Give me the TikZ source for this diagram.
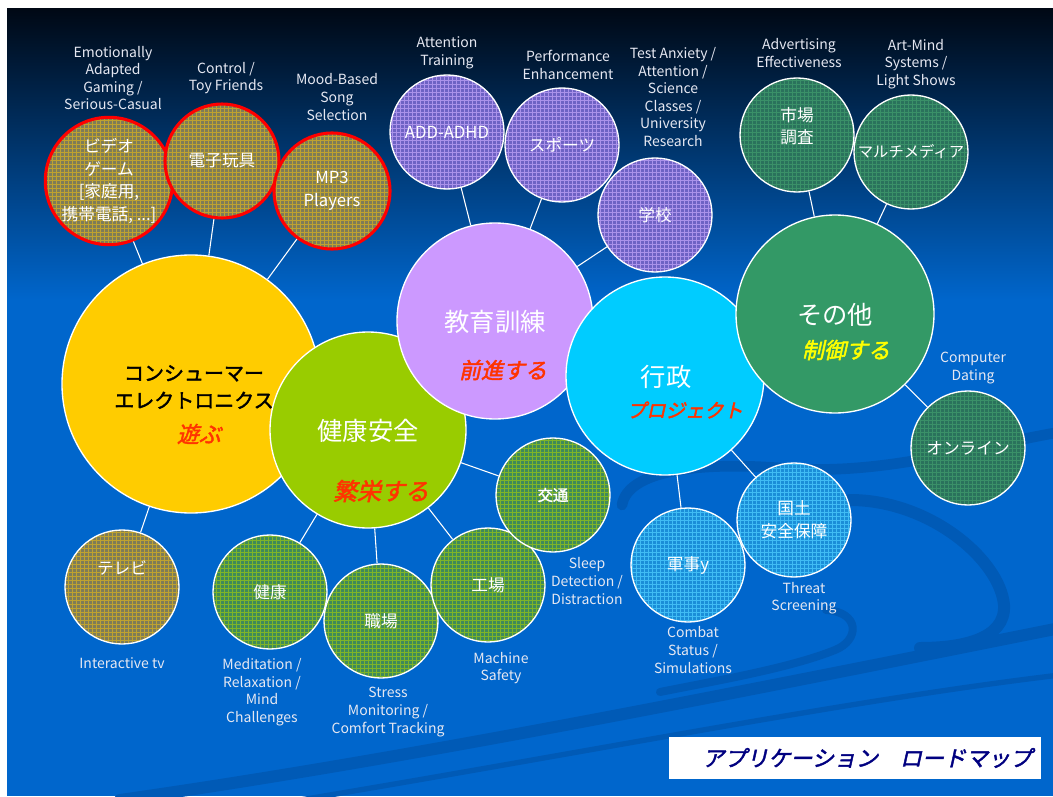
\documentclass[tikz,border=0pt]{standalone}
\usepackage{fontspec}
\setmainfont{Noto Sans CJK JP}
\newfontfamily\jpbi[FakeSlant=0.22,FakeBold=2]{Noto Sans CJK JP}
\newfontfamily\jpb[FakeBold=2]{Noto Sans CJK JP}
\usetikzlibrary{patterns}
\definecolor{bgblue}{HTML}{0066CC}
\definecolor{bgtop}{HTML}{000814}
\definecolor{swc}{HTML}{005AB6}
\definecolor{cyel}{HTML}{FFCC00}
\definecolor{cgrn}{HTML}{99CC00}
\definecolor{cpur}{HTML}{CC99FF}
\definecolor{ccya}{HTML}{00CCFF}
\definecolor{cdgr}{HTML}{339966}
\definecolor{olivebase}{HTML}{7E7C58}
\definecolor{olivegrid}{HTML}{BEA230}
\definecolor{purbase}{HTML}{6E62C4}
\definecolor{purgrid}{HTML}{AA92EA}
\definecolor{hgbase}{HTML}{3F8A5A}
\definecolor{hggrid}{HTML}{7EB428}
\definecolor{cybase}{HTML}{1A8ED8}
\definecolor{cygrid}{HTML}{40BCF4}
\definecolor{dgbase}{HTML}{2A725C}
\definecolor{dggrid}{HTML}{3A9068}
\definecolor{labc}{HTML}{E6E8F2}
\definecolor{jred}{HTML}{FF3300}
\definecolor{jyel}{HTML}{FFFF00}
\definecolor{navy}{HTML}{000080}
\tikzset{
  bignode/.style={circle, draw=white, line width=1pt, inner sep=0pt},
  smallnode/.style={circle, draw=white, line width=1pt, inner sep=0pt, minimum size=85.5pt,
    text=white, align=center, font=\fontsize{12.5}{17}\selectfont},
  olivec/.style={smallnode, preaction={fill=olivebase}, pattern=grid, pattern color=olivegrid},
  redring/.style={draw=red, line width=2.3pt},
  purc/.style={smallnode, preaction={fill=purbase}, pattern=grid, pattern color=purgrid},
  hgc/.style={smallnode, preaction={fill=hgbase}, pattern=grid, pattern color=hggrid},
  cyc/.style={smallnode, preaction={fill=cybase}, pattern=grid, pattern color=cygrid},
  dgc/.style={smallnode, preaction={fill=dgbase}, pattern=grid, pattern color=dggrid},
  smtxt/.style={text=white, align=center, inner sep=0pt, font=\fontsize{12.5}{17}\selectfont},
  conn/.style={draw=white, line width=0.8pt},
  lab/.style={text=labc, align=center, inner sep=0pt, font=\fontsize{10.5}{13.2}\selectfont},
  bigtxt/.style={text=white, inner sep=0pt, font=\fontsize{19}{22}\selectfont},
  verb/.style={inner sep=0pt, font=\jpbi\fontsize{16.5}{20}\selectfont},
  swoosh/.style={draw=swc, line cap=round},
}
\begin{document}
\begin{tikzpicture}[x=0.75pt,y=-0.75pt]
\useasboundingbox (0,0) rectangle (1053,796);
% background
\fill[white] (0,0) rectangle (1053,796);
\shade[top color=bgtop, bottom color=bgblue] (7,8) rectangle (1053,300);
\fill[bgblue] (7,299.5) rectangle (1053,796);
% decorative swooshes
\begin{scope}
\clip (7,300) rectangle (1053,796);
\draw[swoosh, line width=8pt] (622,505) .. controls (628,470) and (700,462) .. (780,468)
   .. controls (880,476) and (960,450) .. (1060,432);
\draw[swoosh, line width=9pt] (850,500) .. controls (930,500) and (1000,560) .. (1004,605)
   .. controls (1006,640) and (960,648) .. (920,648);
\draw[swoosh, line width=6pt] (826,610) .. controls (860,612) and (860,640) .. (835,650)
   .. controls (790,668) and (720,680) .. (660,692);
\draw[swoosh, line width=9pt] (120,800) .. controls (400,760) and (700,700) .. (1060,628);
\draw[swoosh, line width=4pt] (300,800) .. controls (600,750) and (850,700) .. (1060,675);
\end{scope}
% main circles
\node[bignode, fill=cyel, minimum size=193.5pt] (ce) at (191,384) {};
\node[bignode, fill=cgrn, minimum size=147pt] (hs) at (368,430) {};
\node[bignode, fill=cpur, minimum size=147pt] (ed) at (495,321) {};
\node[bignode, fill=ccya, minimum size=148.5pt] (gv) at (665,376) {};
\node[bignode, fill=cdgr, minimum size=148.5pt] (ot) at (835,314) {};
% main circle texts
\node[inner sep=0pt, align=center, text=black, font=\jpb\fontsize{15}{20.5}\selectfont] (cet) at (194,387) {コンシューマー\\エレクトロニクス};
\node[verb, text=jred] (cev) at (199,434) {遊ぶ};
\node[bigtxt] (hst) at (368,431) {健康安全};
\node[verb, text=jred, font=\jpbi\fontsize{18}{20}\selectfont] (hsv) at (381,491) {繁栄する};
\node[bigtxt] (edt) at (495,322) {教育訓練};
\node[verb, text=jred] (edv) at (503,370) {前進する};
\node[bigtxt] (gvt) at (666,377) {行政};
\node[verb, text=jred, font=\jpbi\fontsize{14.5}{18}\selectfont] (gvv) at (685,410) {プロジェクト};
\node[bigtxt] (ott) at (835,315) {その他};
\node[verb, text=jyel] (otv) at (846,350) {制御する};
% small circles
\node[olivec, redring] (vg) at (109,181) {ビデオ\\ゲーム\\{[}家庭用,\\携帯電話, ...]};
\node[olivec, redring] (toy) at (222,161) {電子玩具};
\node[olivec, redring, minimum size=87pt] (mp3) at (332,191) {MP3\\Players};
\node[olivec, label={[smtxt, yshift=14pt]center:テレビ}] (tv) at (122,587) {};
\node[purc] (add) at (447,132) {ADD-ADHD};
\node[purc] (spo) at (562,145) {スポーツ};
\node[purc] (sch) at (655,215) {学校};
\node[dgc, label={[smtxt, yshift=6.5pt]center:{市場\\調査}}] (mkt) at (797,135) {};
\node[dgc, font=\fontsize{11.5}{15}\selectfont] (mm) at (911,152) {マルチメディア};
\node[dgc] (onl) at (968,448) {オンライン};
\node[hgc] (hlt) at (270,592) {健康};
\node[hgc] (wrk) at (381,621) {職場};
\node[hgc] (fac) at (488,585) {工場};
\node[hgc, font=\jpb\fontsize{11.5}{15}\selectfont] (trf) at (553,495) {交通};
\node[cyc] (mil) at (688,565) {軍事y};
\node[cyc] (hom) at (794,520) {国土\\安全保障};
% connectors
\draw[conn] (vg) -- (ce);
\draw[conn] (toy) -- (ce);
\draw[conn] (mp3) -- (ce);
\draw[conn] (tv) -- (ce);
\draw[conn] (add) -- (ed);
\draw[conn] (spo) -- (ed);
\draw[conn] (sch) -- (ed);
\draw[conn] (mkt) -- (ot);
\draw[conn] (mm) -- (ot);
\draw[conn] (onl) -- (ot);
\draw[conn] (hlt) -- (hs);
\draw[conn] (wrk) -- (hs);
\draw[conn] (fac) -- (hs);
\draw[conn] (trf) -- (hs);
\draw[conn] (mil) -- (gv);
\draw[conn] (hom) -- (gv);
% outer labels
\node[lab] (l1) at (113,78) {Emotionally\\Adapted\\Gaming /\\Serious-Casual};
\node[lab] (l2) at (226,78) {Control /\\Toy Friends};
\node[lab] (l3) at (337,97) {Mood-Based\\Song\\Selection};
\node[lab] (l4) at (447,53) {Attention\\Training};
\node[lab] (l5) at (568,65) {Performance\\Enhancement};
\node[lab] (l6) at (673,97) {Test Anxiety /\\Attention /\\Science\\Classes /\\University\\Research};
\node[lab] (l7) at (799,53) {Advertising\\Effectiveness};
\node[lab] (l8) at (916,64) {Art-Mind\\Systems /\\Light Shows};
\node[lab] (l9) at (973,368) {Computer\\Dating};
\node[lab] (l10) at (122,663) {Interactive tv};
\node[lab] (l11) at (262,692) {Meditation /\\Relaxation /\\Mind\\Challenges};
\node[lab] (l12) at (388,712) {Stress\\Monitoring /\\Comfort Tracking};
\node[lab] (l13) at (501,668) {Machine\\Safety};
\node[lab] (l14) at (587,581) {Sleep\\Detection /\\Distraction};
\node[lab] (l15) at (693,650) {Combat\\Status /\\Simulations};
\node[lab] (l16) at (804,598) {Threat\\Screening};
% title box
\node[fill=white, minimum width=279pt, minimum height=31.5pt, inner xsep=6.75pt, inner ysep=0pt,
  text width=265.5pt, align=right, text=navy, font=\jpbi\fontsize{16.5}{20}\selectfont] (title) at (855,758) {アプリケーション　ロードマップ};
\end{tikzpicture}
\end{document}
